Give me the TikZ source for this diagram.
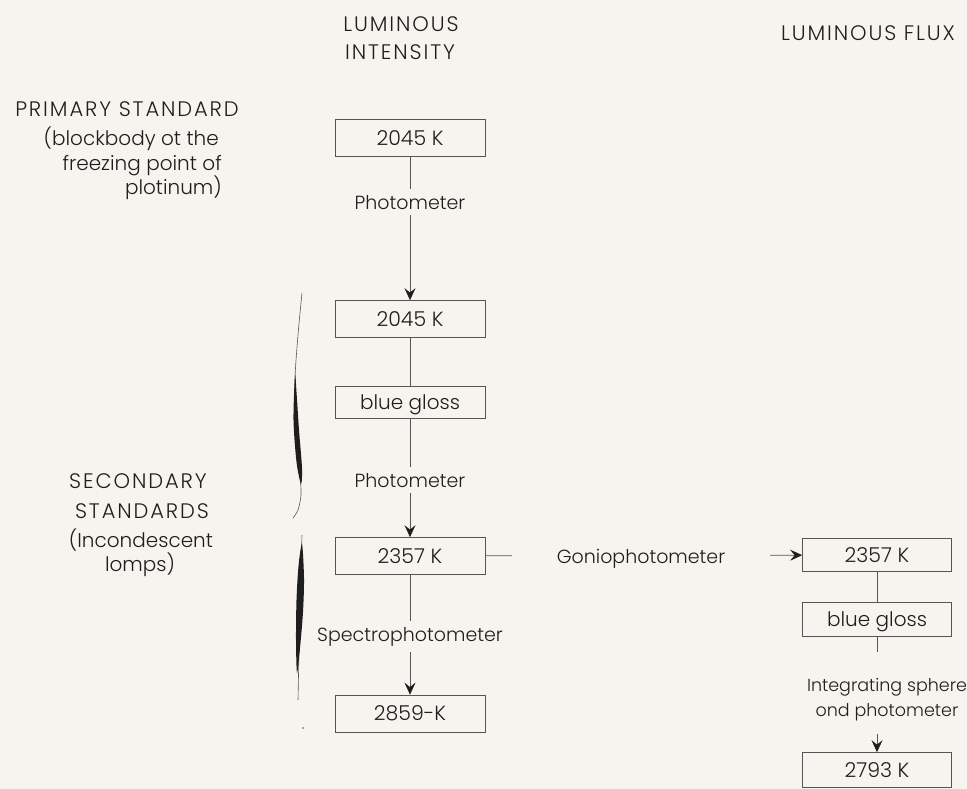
\documentclass[tikz,border=0pt]{standalone}
\usepackage{fontspec}
\setmainfont{Poppins Light}
\newfontfamily\capsfont{Poppins Light}[LetterSpace=9]
\usetikzlibrary{arrows.meta}

\definecolor{paper}{RGB}{247,244,239}
\definecolor{ink}{RGB}{30,30,30}
\definecolor{rule}{RGB}{85,85,85}

\begin{document}
\begin{tikzpicture}[x=1pt,y=-1pt,
  every node/.style={text=ink, font=\fontsize{20}{24}\selectfont},
  txt/.style={anchor=base, inner sep=0pt},
  caps/.style={txt, font=\capsfont\fontsize{21}{24}\selectfont},
  box/.style={draw=rule, line width=0.7pt, minimum width=150pt, minimum height=37pt,
    inner sep=0pt, text height=14.5pt, text depth=0pt,
    font=\fontsize{20.5}{24}\selectfont},
  link/.style={draw=rule, line width=0.7pt},
  arr/.style={link, -{Stealth[length=12pt,width=11pt,inset=4.5pt,color=ink,fill=ink]}},
  gap/.style={anchor=base, fill=paper, inner xsep=2pt, inner ysep=6pt,
    font=\fontsize{19}{24}\selectfont},
]
% paper and page frame
\fill[paper] (0,0) rectangle (967,789);
\useasboundingbox (0,0) rectangle (967,789);

% column headings
\node[caps] (hLum)  at (401,32) {LUMINOUS};
\node[caps] (hInt)  at (400,60) {INTENSITY};
\node[caps] (hFlux) at (868,41) {LUMINOUS FLUX};

% row headings
\node[caps] (pri1) at (127,117) {PRIMARY STANDARD};
\node[txt, anchor=base east] (pri2) at (219,146) {(blockbody ot the};
\node[txt, anchor=base east] (pri3) at (222,171) {freezing point of};
\node[txt, anchor=base east] (pri4) at (222,195) {plotinum)};

\node[caps] (sec1) at (138,488) {SECONDARY};
\node[caps] (sec2) at (142,518) {STANDARDS};
\node[txt] (sec3) at (141,547) {(Incondescent};
\node[txt] (sec4) at (140,571) {lomps)};

% luminous intensity chain
\node[box] (li1) at (410,138) {2045 K};
\node[box] (li2) at (410,319) {2045 K};
\node[box, minimum height=32pt, font=\fontsize{20}{24}\selectfont] (li3) at (410,402) {blue gloss};
\node[box] (li4) at (410,556) {2357 K};
\node[box] (li5) at (410,713.5) {2859-K};

% luminous flux chain
\node[box, minimum width=149pt, minimum height=33pt] (lf1) at (877,555) {2357 K};
\node[box, minimum width=149pt, minimum height=34pt, font=\fontsize{20}{24}\selectfont] (lf2) at (877,619) {blue gloss};
\node[box, minimum width=149pt, minimum height=35pt] (lf3) at (877,770) {2793 K};

% connectors
\draw[arr]  (li1) -- (li2);
\draw[link] (li2) -- (li3);
\draw[arr]  (li3) -- (li4);
\draw[arr]  (li4) -- (li5);
\draw[arr]  (li4) -- (lf1);
\draw[link] (lf1) -- (lf2);
\draw[arr]  (lf2) -- (lf3);

% connector labels (paper-filled to break the lines)
\node[gap] (m1) at (410,209) {Photometer};
\node[gap] (m2) at (410,487) {Photometer};
\node[gap] (m3) at (410,641) {Spectrophotometer};
\node[gap, inner xsep=45pt] (m4) at (641,563) {Goniophotometer};
\fill[paper] (865,652) rectangle (890,734);
\node[anchor=base, inner sep=0pt, align=center,
      font=\fontsize{17.5}{25}\selectfont] (m5) at (887,716)
  {Integrating sphere\\ond photometer};

% bracket beside the secondary standards, upper part
\draw[rule, line width=0.6pt] plot[smooth] coordinates
  {(302,293) (298,335) (295,380) (296,430) (300,475) (301,495) (298,510) (293,518)};
\fill[ink] plot[smooth cycle] coordinates
  {(295,375) (293.5,420) (296.5,462) (301,484) (302,468) (299,430) (296.5,392)};

% bracket, lower part
\draw[rule, line width=0.6pt] (302,535) .. controls (300,600) and (299,650) .. (298,700);
\fill[ink] plot[smooth cycle] coordinates
  {(302,544) (304,578) (303,612) (300,648) (297,673) (296,640) (296.5,600) (298.5,566)};
\fill[rule] (303,728) circle (0.8pt);
\end{tikzpicture}
\end{document}
